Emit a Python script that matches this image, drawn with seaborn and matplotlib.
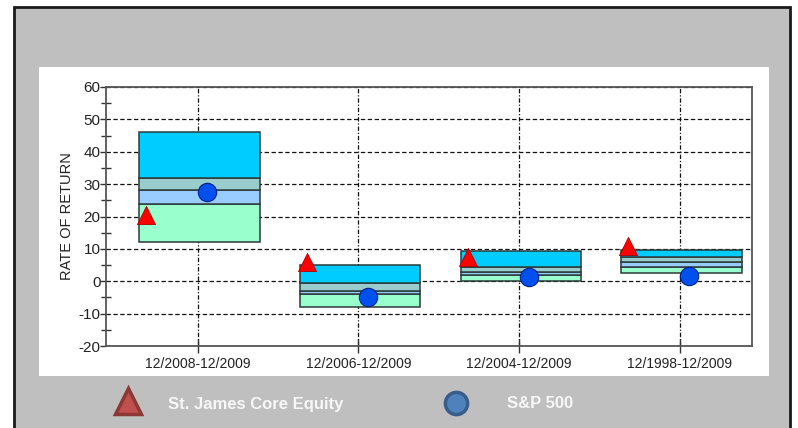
import numpy as np
import pandas as pd
import matplotlib
matplotlib.use("Agg")
import matplotlib.pyplot as plt
import seaborn as sns
from matplotlib.patches import Rectangle
from matplotlib.lines import Line2D
from matplotlib.ticker import MultipleLocator

sns.set_theme(style="white")
plt.rcParams['font.family'] = ['Liberation Sans', 'DejaVu Sans']
plt.rcParams['axes.unicode_minus'] = False

# ---- data ----
categories = ["12/2008-12/2009", "12/2006-12/2009", "12/2004-12/2009", "12/1998-12/2009"]
pct05 = [12.0, -8.0, 0.2, 2.5]
pct25 = [23.9, -4.0, 1.9, 4.3]
pct50 = [28.2, -2.9, 2.8, 6.1]
pct75 = [31.9, -0.6, 4.5, 7.5]
pct95 = [46.2, 4.9, 9.3, 9.8]
st_james = [20.6, 6.0, 7.4, 10.9]
sp500 = [27.5, -5.0, 1.3, 1.5]
series_names = ["St. James Core Equity", "S&P 500"]

W, H = 798, 428
fig = plt.figure(figsize=(W / 100, H / 100), dpi=100, facecolor="white")

def fx(px):
    return px / W

def fy(py):
    return 1 - py / H

# gray frame with dark border
fig.add_artist(Rectangle((fx(14), fy(440)), fx(790) - fx(14), fy(7) - fy(440),
                         transform=fig.transFigure, facecolor="#bfbfbf",
                         edgecolor="#1a1a1a", lw=2, zorder=-3))
# white panel
fig.add_artist(Rectangle((fx(39), fy(376)), fx(769) - fx(39), fy(67) - fy(376),
                         transform=fig.transFigure, facecolor="white",
                         edgecolor="none", zorder=-2))

ax = fig.add_axes([fx(106), fy(346), fx(752) - fx(106), fy(87) - fy(346)])
ax.set_facecolor("white")

pos = np.arange(len(categories))
band_colors = ["#99ffcc", "#99ccff", "#99cccc", "#00ccff"]
levels = [pct05, pct25, pct50, pct75, pct95]
for i in range(4):
    lo = np.array(levels[i])
    hi = np.array(levels[i + 1])
    ax.bar(pos + 0.012, hi - lo, bottom=lo, width=0.75, color=band_colors[i],
           edgecolor="#2b3a3a", linewidth=1.1, zorder=3)

df = pd.DataFrame({
    "x": np.concatenate([pos - 0.32, pos + 0.06]),
    "y": st_james + sp500,
    "series": [series_names[0]] * 4 + [series_names[1]] * 4,
})
sns.scatterplot(data=df[df.series == series_names[0]], x="x", y="y", ax=ax,
                marker="^", s=170, color="#ff0000", edgecolor="#b00000",
                linewidth=0.6, zorder=5, legend=False)
sns.scatterplot(data=df[df.series == series_names[1]], x="x", y="y", ax=ax,
                marker="o", s=175, color="#0050f0", edgecolor="#00208a",
                linewidth=0.8, zorder=5, legend=False)

ax.set_xlim(-0.57, 3.45)
ax.set_ylim(-20, 60)
ax.set_xticks(pos)
ax.set_xticklabels(categories, fontsize=10, color="#222222")
ax.yaxis.set_major_locator(MultipleLocator(10))
ax.yaxis.set_minor_locator(MultipleLocator(5))
ax.tick_params(axis="y", which="major", direction="out", length=4, width=1,
               color="#333333", labelsize=11, labelcolor="#222222", pad=0, left=True)
ax.tick_params(axis="y", which="minor", direction="inout", length=7, width=1,
               color="#333333", left=True)
ax.tick_params(axis="x", which="major", direction="inout", length=10, width=1,
               color="#333333", pad=3, bottom=True)
ax.set_xlabel("")
ax.set_ylabel("RATE OF RETURN", fontsize=10.5, color="#222222", labelpad=3)

ax.yaxis.grid(True, which="major", color="#111111", linestyle=(0, (3.5, 2)), linewidth=0.9, zorder=1)
ax.xaxis.grid(True, which="major", color="#111111", linestyle=(0, (3.5, 1.5, 1, 1.5)), linewidth=0.9, zorder=1)
ax.set_axisbelow(True)
for s in ax.spines.values():
    s.set_color("#555555")
    s.set_linewidth(1.3)
    s.set_visible(True)

# legend (custom, figure coordinates)
fig.add_artist(Line2D([fx(128)], [fy(401)], transform=fig.transFigure, marker="^",
                      markersize=19, markerfacecolor="#c0504d", markeredgecolor="#8c3836",
                      markeredgewidth=2.5, linestyle="none"))
fig.text(fx(168), fy(404), series_names[0], fontsize=12, fontweight="bold",
         color="#f7f7f7", va="center", ha="left")
fig.add_artist(Line2D([fx(456)], [fy(403)], transform=fig.transFigure, marker="o",
                      markersize=16, markerfacecolor="#4f81bd", markeredgecolor="#385d8a",
                      markeredgewidth=2.5, linestyle="none"))
fig.text(fx(507), fy(404), series_names[1], fontsize=12, fontweight="bold",
         color="#f7f7f7", va="center", ha="left")

fig.savefig("out.png", dpi=100, facecolor=fig.get_facecolor())
